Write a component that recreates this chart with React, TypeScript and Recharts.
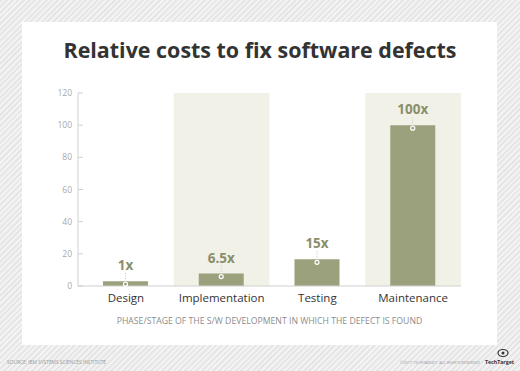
import React from 'react';
import { BarChart, Bar, XAxis, YAxis, ReferenceArea, LabelList, Label } from 'recharts';

const phases = ['Design', 'Implementation', 'Testing', 'Maintenance'];
const costs = [3, 7.7, 16.6, 100];
const costLabels = ['1x', '6.5x', '15x', '100x'];
const shadedPhases = ['Implementation', 'Maintenance'];
const yTicks = [0, 20, 40, 60, 80, 100, 120];

const chartData = phases.map((phase, i) => ({ phase, cost: costs[i], tag: costLabels[i] }));

const BAR = '#9ca17d';
const LABEL = '#8a8f6b';

const YTick = ({ x, y, payload }: any) => (
  <g>
    <text x={x} y={y} dy={3} textAnchor="end" fontSize={8.5} fill="#a8a8a8" fontFamily="Open Sans">
      {payload.value}
    </text>
    <line x1={x + 6} x2={x + 11} y1={y} y2={y} stroke="#cfcfcf" strokeWidth={1} />
  </g>
);

const CostTag = ({ x, y, width, index }: any) => {
  const cx = x + width / 2;
  return (
    <g>
      <text
        x={cx}
        y={y - 16}
        dy={5}
        textAnchor="middle"
        fontSize={13.5}
        fontWeight={700}
        fill={LABEL}
        fontFamily="Open Sans"
      >
        {costLabels[index]}
      </text>
      <line x1={cx} x2={cx} y1={y - 8} y2={y + 1} stroke="#c9cbb4" strokeDasharray="1 1.5" />
      <circle cx={cx} cy={y + 3} r={2} fill="none" stroke="#ffffff" strokeWidth={1.2} />
    </g>
  );
};

export default function App() {
  return (
    <div
      style={{
        position: 'absolute',
        left: 0,
        top: 0,
        width: 520,
        height: 371,
        overflow: 'hidden',
        background: 'repeating-linear-gradient(-45deg, #e6e6e6 0px, #e6e6e6 2px, #f3f3f3 2px, #f3f3f3 4px)',
        fontFamily: 'Open Sans',
      }}
    >
      <div style={{ position: 'absolute', left: 22, top: 22, width: 475, height: 323, background: '#ffffff' }} />
      <svg width={520} height={80} style={{ position: 'absolute', left: 0, top: 0 }}>
        <text
          x={260}
          y={58}
          textAnchor="middle"
          fontSize={22}
          fontWeight={700}
          fill="#333333"
          fontFamily="Open Sans"
          textLength={393}
          lengthAdjust="spacingAndGlyphs"
        >
          Relative costs to fix software defects
        </text>
      </svg>
      <div style={{ position: 'absolute', left: 0, top: 0 }}>
        <BarChart
          width={520}
          height={371}
          data={chartData}
          margin={{ top: 93, right: 59, left: 38, bottom: 47 }}
          barSize={45}
        >
          {shadedPhases.map((p) => (
            <ReferenceArea key={p} x1={p} x2={p} y1={0} y2={120} fill="#f1f1e8" fillOpacity={1} stroke="none" />
          ))}
          <XAxis
            dataKey="phase"
            height={38}
            tickLine={false}
            axisLine={{ stroke: '#d0d0d0' }}
            tick={{ fontSize: 11.5, fill: '#333333', fontFamily: 'Open Sans' }}
            interval={0}
          >
            <Label
              value="PHASE/STAGE OF THE S/W DEVELOPMENT IN WHICH THE DEFECT IS FOUND"
              position="insideBottom"
              offset={0}
              fontSize={8.7}
              fill="#8c8c8c"
              fontFamily="Open Sans"
            />
          </XAxis>
          <YAxis
            width={40}
            domain={[0, 120]}
            ticks={yTicks}
            tickSize={0}
            tickMargin={6}
            tickLine={false}
            axisLine={{ stroke: '#d0d0d0' }}
            tick={<YTick />}
          />
          <Bar dataKey="cost" fill={BAR} isAnimationActive={false}>
            <LabelList dataKey="tag" content={<CostTag />} />
          </Bar>
        </BarChart>
      </div>
      <svg width={520} height={26} style={{ position: 'absolute', left: 0, top: 345 }}>
        <text x={7} y={19} fontSize={4.4} fill="#9a9a9a" fontFamily="Open Sans" textLength={99} lengthAdjust="spacingAndGlyphs">
          SOURCE: IBM SYSTEMS SCIENCES INSTITUTE
        </text>
        <text x={400} y={19} fontSize={3.8} fill="#9a9a9a" fontFamily="Open Sans" textLength={80} lengthAdjust="spacingAndGlyphs">
          ©2017 TECHTARGET. ALL RIGHTS RESERVED
        </text>
        <ellipse cx={503} cy={8} rx={5} ry={3.5} fill="none" stroke="#333" strokeWidth={1.2} />
        <circle cx={503} cy={8} r={1.5} fill="#333" />
        <text x={485} y={19} fontSize={5.5} fontWeight={700} fill="#333" fontFamily="Open Sans" textLength={29} lengthAdjust="spacingAndGlyphs">
          TechTarget
        </text>
      </svg>
    </div>
  );
}
